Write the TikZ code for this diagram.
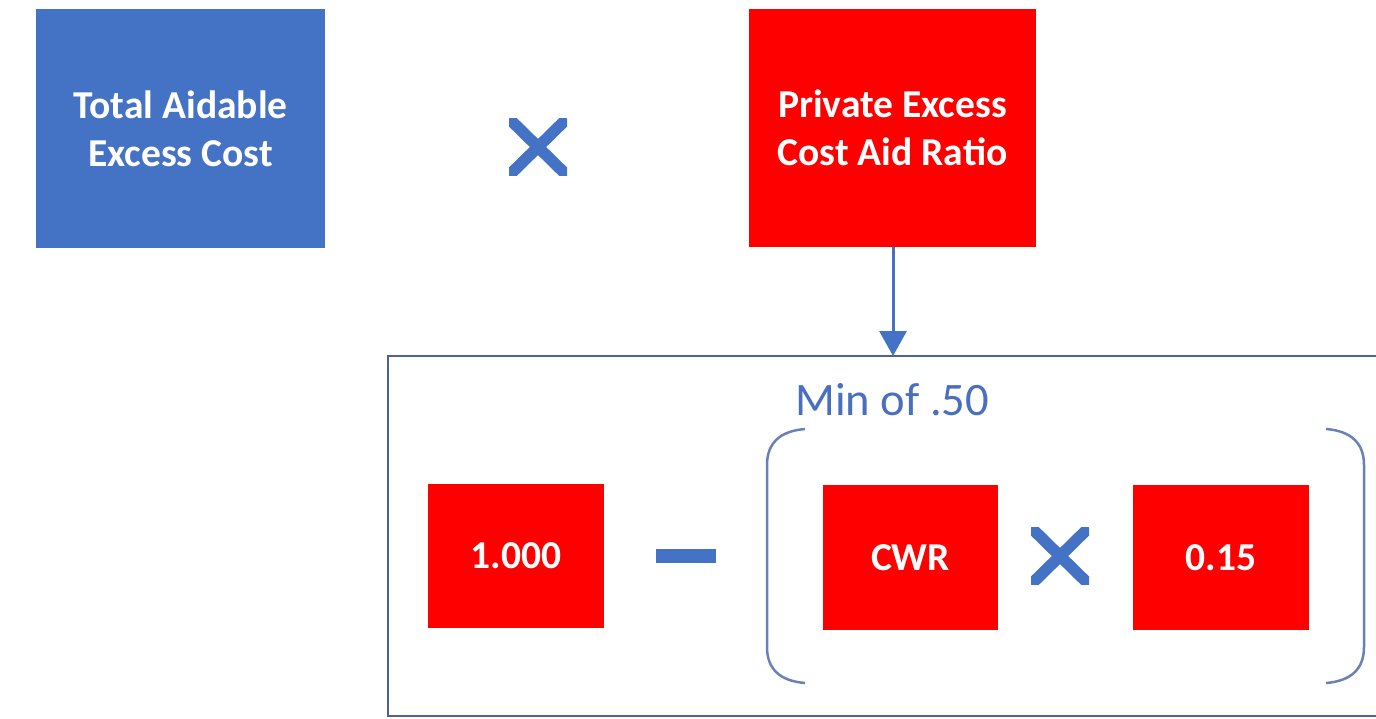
\documentclass[tikz,border=0pt]{standalone}
\usepackage{fontspec}
\setmainfont{Carlito}
\usetikzlibrary{arrows.meta}
\definecolor{ofblue}{HTML}{4472C4}
\definecolor{ofred}{HTML}{FF0000}
\definecolor{framec}{HTML}{4F6190}
\definecolor{brackc}{HTML}{6A80B8}
\definecolor{labc}{HTML}{4A6EC0}
\tikzset{
  bigbox/.style={rectangle, inner sep=0pt, text=white, align=center,
    font=\fontsize{22.5}{27.2}\selectfont\bfseries},
  bluebox/.style={bigbox, fill=ofblue},
  redbox/.style={bigbox, fill=ofred},
  timesmark/.style={rectangle, inner sep=0pt, minimum width=1.16cm, minimum height=1.14cm,
    path picture={\draw[ofblue, line width=0.23cm]
      (path picture bounding box.north west) -- (path picture bounding box.south east)
      (path picture bounding box.north east) -- (path picture bounding box.south west);}},
  minusmark/.style={rectangle, inner sep=0pt, fill=ofblue, minimum width=1.2cm, minimum height=0.28cm},
  arrowline/.style={ofblue, line width=0.06cm, -{Triangle[width=0.54cm,length=0.5cm]}},
  framebox/.style={framec, line width=0.04cm},
  bracket/.style={brackc, line width=0.05cm},
}
\begin{document}
\begin{tikzpicture}[x=0.02cm,y=-0.02cm]
\useasboundingbox (0,0) rectangle (1376,718);
\clip (0,0) rectangle (1376,718);
% top row
\node[bluebox, minimum width=5.78cm, minimum height=4.78cm] (total) at (180.5,128.5) {Total Aidable\\Excess Cost};
\node[timesmark] (times1) at (538,147) {};
\node[redbox, minimum width=5.74cm, minimum height=4.76cm] (ratio) at (892.5,128) {Private Excess\\Cost Aid Ratio};
% frame
\draw[framebox] (388,356) rectangle (1420,716);
\coordinate (frametop) at (893,356);
\draw[arrowline] (ratio.south -| frametop) -- (frametop);
% label
\node[anchor=base west, inner sep=0pt, text=labc, font=\fontsize{26.5}{30}\selectfont] (minlabel) at (795,415) {Min of .50};
% brackets
\draw[bracket] (805,429) .. controls (780,431) and (767,443) .. (767,465) -- (767,647) .. controls (767,669) and (780,681) .. (805,683);
\draw[bracket] (1326,429) .. controls (1351,431) and (1364,443) .. (1364,465) -- (1364,647) .. controls (1364,669) and (1351,681) .. (1326,683);
% bottom row
\node[redbox, minimum width=3.52cm, minimum height=2.88cm] (one) at (516,556) {1.000};
\node[minusmark] (minus) at (686,556) {};
\node[redbox, minimum width=3.5cm, minimum height=2.9cm] (cwr) at (910.5,557.5) {CWR};
\node[timesmark] (times2) at (1060,556) {};
\node[redbox, minimum width=3.52cm, minimum height=2.9cm] (fifteen) at (1221,557.5) {0.15};
\end{tikzpicture}
\end{document}
